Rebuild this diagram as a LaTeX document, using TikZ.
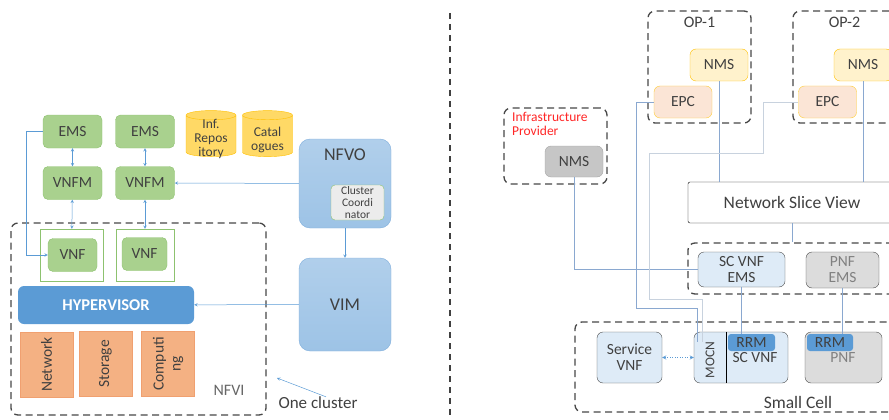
\documentclass[tikz,border=0pt]{standalone}
\usepackage{fontspec}
\setmainfont{Carlito}
\usetikzlibrary{arrows,shapes,positioning,calc}
\definecolor{txtgray}{HTML}{404040}
\definecolor{vnffill}{HTML}{A9D18E}
\definecolor{vnfline}{HTML}{8DC26F}
\definecolor{cylfill}{HTML}{FFD966}
\definecolor{cylline}{HTML}{FFC000}
\definecolor{manofill}{HTML}{9DC3E6}
\definecolor{manoline}{HTML}{7FAEDC}
\definecolor{hypfill}{HTML}{5B9BD5}
\definecolor{resfill}{HTML}{F4B183}
\definecolor{resline}{HTML}{F0A070}
\definecolor{nmsfill}{HTML}{FFF2CC}
\definecolor{epcfill}{HTML}{FBE5D6}
\definecolor{scfill}{HTML}{DEEBF7}
\definecolor{pnffill}{HTML}{DCDCDC}
\definecolor{linkblue}{HTML}{5B9BD5}
\definecolor{wireblue}{HTML}{8AA8D0}
\definecolor{wirepale}{HTML}{C8D2DE}
\tikzset{
	greenbox/.style={
		rectangle,
		rounded corners=5pt,
		draw=vnfline,
		fill=vnffill,
		text=txtgray,
		inner sep=0pt,
		minimum width=59pt,
		minimum height=33pt,
		font=\fontsize{15.5}{16}\selectfont,
	},
	vnfframe/.style={
		rectangle,
		draw=vnfline,
		minimum width=58pt,
		minimum height=52pt,
	},
	store/.style={
		cylinder,
		shape border rotate=90,
		aspect=0.28,
		draw=cylline,
		fill=cylfill,
		inner sep=0pt,
		minimum width=50pt,
		minimum height=46pt,
		font=\fontsize{13.5}{14}\selectfont,
	},
	storelbl/.style={
		text=txtgray,
		align=center,
		inner sep=0pt,
		font=\fontsize{13.5}{14}\selectfont,
	},
	mano/.style={
		rectangle,
		rounded corners=11pt,
		draw=manoline,
		top color=manofill!80!white,
		bottom color=manofill,
		text=txtgray,
		minimum width=92pt,
		font=\fontsize{18}{19}\selectfont,
	},
	resbox/.style={
		rectangle,
		draw=resline,
		fill=resfill,
		text=txtgray,
		align=center,
		inner sep=0pt,
		minimum width=65pt,
		minimum height=53pt,
		font=\fontsize{15.5}{17}\selectfont,
	},
	dashbox/.style={
		rectangle,
		rounded corners=7pt,
		draw=black!72,
		line width=1.3pt,
		dash pattern=on 7pt off 4.5pt,
	},
	plainlbl/.style={
		text=txtgray,
		inner sep=0pt,
		font=\fontsize{16}{17}\selectfont,
	},
	smallbox/.style={
		rectangle,
		rounded corners=6pt,
		text=txtgray,
		align=center,
		inner sep=0pt,
		minimum width=58pt,
		minimum height=32pt,
		font=\fontsize{15.5}{16}\selectfont,
	},
	link/.style={draw=linkblue, line width=0.5pt},
	wire/.style={draw=wireblue, line width=0.7pt},
}

\begin{document}
\begin{tikzpicture}[x=1pt, y=-1pt, >=stealth]

	\useasboundingbox (0,0) rectangle (889,420);
	\clip (0,0) rectangle (889,420);

	\tikzstyle{rrmbox}=[rectangle,rounded corners=3pt,fill=hypfill,text=txtgray,inner sep=0pt,minimum height=17pt,font=\fontsize{15.5}{16}\selectfont]

	% left half: one cluster
	\node [dashbox] (nfvi) [minimum width=255pt, minimum height=192pt] at (138.5,319) {};
	\node [greenbox] (ems1) at (72.5,131.5) {EMS};
	\node [greenbox] (ems2) at (145,131.5) {EMS};
	\node [greenbox] (vnfm1) at (72.5,183) {VNFM};
	\node [greenbox] (vnfm2) at (145,183) {VNFM};
	\node [vnfframe] (vnfbox1) [minimum width=63pt] at (71.5,255) {};
	\node [vnfframe] (vnfbox2) at (145,255) {};
	\node [greenbox] (vnf1) [minimum width=49pt] at (72.5,255) {VNF};
	\node [greenbox] (vnf2) [minimum width=45pt] at (144.5,254) {VNF};
	\node [store] (infrep) at (211,136) {\phantom{Repos}};
	\node [storelbl] (infreplbl) at (211,139) {Inf.\\Repos\\itory};
	\node [store] (catal) at (267.5,136) {\phantom{ogues}};
	\node [storelbl] (catallbl) at (267.5,140) {Catal\\ogues};

	\node [mano] (nfvo) [minimum height=89pt] at (345,183.5) {};
	\node [plainlbl] (nfvolbl) [font=\fontsize{18}{19}\selectfont] at ([yshift=-16pt]nfvo.north) {NFVO};
	\node [rectangle, rounded corners=4pt, draw=vnfline, fill=gray!15, text=txtgray, align=center, inner sep=0pt,
		minimum width=53pt, minimum height=35pt, font=\fontsize{11.5}{12}\selectfont] (clco) at (357.5,202.5) {Cluster\\Coordi\\nator};
	\node [mano] (vim) [minimum height=93pt] at (345,304.5) {VIM};

	\node [rectangle, rounded corners=6pt, fill=hypfill, text=white, minimum width=176pt, minimum height=38pt,
		font=\fontsize{16.5}{17}\selectfont\bfseries] (hyper) at (106,305) {HYPERVISOR};
	\node [resbox, rotate=90] (net) at (46.5,364.5) {Network};
	\node [resbox, rotate=90] (stor) at (105.5,364) {Storage};
	\node [resbox, rotate=90] (comp) at (168,364) {Computi\\ng};
	\node [plainlbl] (nfvilbl) [text=black!60] at (229,390) {NFVI};
	\node [plainlbl] (onecl) [font=\fontsize{17}{18}\selectfont] at (318,403) {One cluster};
	\coordinate (clpt) at (277,378);

	\draw [link, <->] (ems1) -- (vnfm1);
	\draw [link, <->] (ems2) -- (vnfm2);
	\draw [link, <->] (vnfm1) -- (vnfbox1);
	\draw [link, <->] (vnfm2) -- (vnfbox2);
	\draw [link, ->] (ems1.west) -- ++(-17,0) |- (vnf1.west);
	\draw [link, ->] (nfvo) -- (vnfm2);
	\draw [link, ->] (nfvo) -- (vim);
	\draw [link, ->] (vim) -- (hyper);
	\draw [link, ->] ([xshift=8pt]onecl.north) -- (clpt);

	% divider
	\draw [black!75, line width=1.5pt, dash pattern=on 6pt off 5pt] (450,13) -- (450,420);

	% right half: operators and small cell
	\node [dashbox] (op1) [minimum width=103pt, minimum height=112pt] at (699.5,67) {};
	\node [plainlbl] (op1lbl) at ([yshift=-12pt]op1.north) {OP-1};
	\node [dashbox] (op2) [minimum width=103pt, minimum height=112pt] at (844.5,67) {};
	\node [plainlbl] (op2lbl) at ([yshift=-12pt]op2.north) {OP-2};
	\node [smallbox] (nms1) [draw=cylline, fill=nmsfill] at (719,65) {NMS};
	\node [smallbox] (nms2) [draw=cylline, fill=nmsfill] at (863,65) {NMS};
	\node [smallbox] (epc1) [draw=cylline!80, fill=epcfill] at (683,102) {EPC};
	\node [smallbox] (epc2) [draw=cylline!80, fill=epcfill] at (827.5,102) {EPC};

	\node [dashbox] (infra) [minimum width=103pt, minimum height=76pt] at (555.5,146) {};
	\node [plainlbl] (infralbl) [anchor=north west, align=left, text=red!85, font=\fontsize{13.5}{14.5}\selectfont] at (512,112) {Infrastructure\\Provider};
	\node [smallbox] (nms0) [draw=gray!70, fill=gray!45, minimum height=31pt] at (574,161.5) {NMS};

	\node [rectangle, rounded corners=2pt, draw=black, fill=white, text=txtgray, minimum width=208pt, minimum height=41pt,
		font=\fontsize{17.5}{18}\selectfont] (nsv) at (792,202.5) {Network Slice View};

	\node [dashbox] (emsgrp) [minimum width=212pt, minimum height=51pt] at (794,268.5) {};
	\node [smallbox] (scems) [draw=black!70, fill=scfill, minimum width=87pt, minimum height=35pt] at (741.5,269.5) {SC VNF\\EMS};
	\node [smallbox] (pnfems) [draw=black!70, fill=pnffill, text=gray, minimum width=73pt, minimum height=36pt] at (842.5,270) {PNF\\EMS};

	\node [dashbox] (smallcell) [minimum width=330pt, minimum height=90pt] at (740,367) {};
	\node [plainlbl] (sclbl) [font=\fontsize{17.5}{18}\selectfont] at (798,402) {Small Cell};
	\node [smallbox] (svnf) [draw=black!70, fill=scfill, minimum width=65pt, minimum height=51pt] at (629.5,357.5) {Service\\VNF};
	\node [smallbox] (scvnf) [draw=black!70, fill=scfill, minimum width=94pt, minimum height=51pt] at (741,357.5) {};
	\node [inner sep=0pt, minimum width=32pt, minimum height=51pt] (mocn) at (710,357.5) {};
	\node [plainlbl] (mocnlbl) [rotate=90, font=\fontsize{13.5}{14}\selectfont] at (710,360) {MOCN};
	\draw [black, line width=1.2pt] (mocn.north east) -- (mocn.south east);
	\node [rrmbox] (rrm1) [minimum width=47pt] at (751.5,342.5) {RRM};
	\node [plainlbl] (scvnflbl) [font=\fontsize{15.5}{16}\selectfont] at (755,358) {SC VNF};
	\node [smallbox] (pnf) [draw=black!70, fill=pnffill, minimum width=77pt, minimum height=51pt] at (843.5,357.5) {};
	\node [rrmbox] (rrm2) [minimum width=46pt] at (830,342.5) {RRM};
	\node [plainlbl] (pnflbl) [text=gray, font=\fontsize{15.5}{16}\selectfont] at (843,358) {PNF};

	\draw [wire] (nms1) -- (nms1 |- nsv.north);
	\draw [wire] (nms2) -- (nms2 |- nsv.north);
	\draw [wire] (nms0) |- (scems.west);
	\draw [wire] (nsv.south) -- (nsv.south |- emsgrp.north);
	\draw [wire] (scems.south) -- (scems.south |- rrm1.north);
	\draw [wire] (pnfems.south) -- (pnfems.south |- rrm2.north);
	\draw [wire] (epc1.west) -- ++(-17,0) -- ++(0,206) -| ([xshift=4pt, yshift=-10pt]mocn.north west);
	\draw [draw=wirepale, line width=0.9pt] (epc2.west) -- ++(-35,0) -- ++(0,51) -- ++(-114,0) -- ++(0,146) -| ([xshift=9pt, yshift=-10pt]mocn.north west);
	\draw [link, <->, dotted, thick] (svnf.east) -- (scvnf.west);

\end{tikzpicture}
\end{document}
